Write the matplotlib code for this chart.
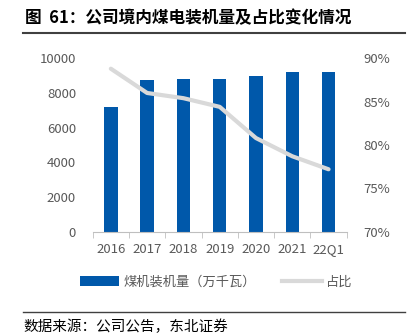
import matplotlib
matplotlib.use("Agg")
import matplotlib.pyplot as plt
from matplotlib.patches import Patch
from matplotlib.lines import Line2D
from matplotlib.ticker import FuncFormatter

plt.rcParams['font.family'] = ['Noto Sans CJK SC', 'DejaVu Sans']

categories = ["2016", "2017", "2018", "2019", "2020", "2021", "22Q1"]
capacity = [7200, 8750, 8830, 8800, 9000, 9200, 9200]
share = [88.8, 86.0, 85.4, 84.4, 80.8, 78.7, 77.2]
left_ticks = [0, 2000, 4000, 6000, 8000, 10000]
right_ticks = [70, 75, 80, 85, 90]

title = "图  61：公司境内煤电装机量及占比变化情况"
source = "数据来源：公司公告，东北证券"
bar_label = "煤机装机量（万千瓦）"
line_label = "占比"

bar_color = "#0058AA"
line_color = "#D9D9D9"
tick_color = "#595959"

W, H = 411, 336
fig = plt.figure(figsize=(W / 100, H / 100), dpi=100)
ax = fig.add_axes([92.7 / W, 1 - 231.7 / H, (346.7 - 92.7) / W, (231.7 - 58.3) / H])
x = list(range(len(categories)))
ax.bar(x, capacity, width=0.37, color=bar_color, zorder=2)
ax.set_xlim(-0.5, len(categories) - 0.5)
ax.set_ylim(0, 10000)
ax.set_yticks(left_ticks)
ax.set_xticks(x)
ax.set_xticklabels(categories)
ax.set_xticks([i - 0.5 for i in range(len(categories) + 1)], minor=True)
ax.tick_params(axis='x', which='major', length=0, pad=8, labelsize=9.5, labelcolor=tick_color)
ax.tick_params(axis='x', which='minor', length=4, color="#BFBFBF", direction='out')
ax.tick_params(axis='y', length=0, labelsize=9.5, labelcolor=tick_color, pad=12)
for s in ["top", "right", "left"]:
    ax.spines[s].set_visible(False)
ax.spines["bottom"].set_color("#BFBFBF")
ax.spines["bottom"].set_linewidth(0.8)

ax2 = ax.twinx()
ax2.plot(x, share, color=line_color, linewidth=3, solid_capstyle='round', zorder=3)
ax2.set_ylim(70, 90)
ax2.set_yticks(right_ticks)
ax2.yaxis.set_major_formatter(FuncFormatter(lambda v, p: f"{v:.0f}%"))
ax2.tick_params(axis='y', length=0, labelsize=9.5, labelcolor=tick_color, pad=12)
for s in ["top", "right", "left", "bottom"]:
    ax2.spines[s].set_visible(False)

handles = [Patch(facecolor=bar_color, edgecolor='none'),
           Line2D([0], [0], color=line_color, linewidth=3)]
fig.legend(handles, [bar_label, line_label], loc='center', bbox_to_anchor=(216 / W, 1 - 282 / H),
           ncol=2, frameon=False, fontsize=9.5, labelcolor=tick_color,
           handlelength=3.0, handleheight=0.7, columnspacing=2.0, handletextpad=0.3)

fig.text(25 / W, 1 - 18 / H, title, fontsize=12, fontweight='bold', va='center', ha='left', color='black')
fig.add_artist(Line2D([23 / W, 405 / W], [1 - 33 / H, 1 - 33 / H], color="#404040", linewidth=1.5))
fig.add_artist(Line2D([23 / W, 405 / W], [1 - 311.5 / H, 1 - 311.5 / H], color="#404040", linewidth=1.0))
fig.text(23 / W, 1 - 326.5 / H, source, fontsize=10.5, va='center', ha='left', color='black')

fig.savefig("out.png", dpi=100)
